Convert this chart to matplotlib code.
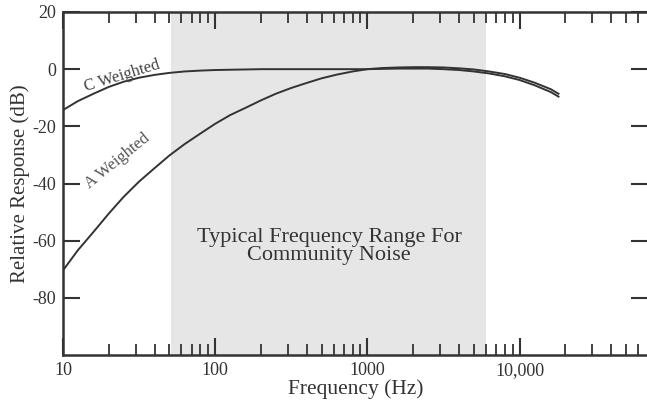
import matplotlib
matplotlib.use('Agg')
import matplotlib.pyplot as plt
from matplotlib.ticker import FixedLocator, FixedFormatter, LogLocator, NullFormatter

# Frequencies (Hz) and weighting
freq = [10, 12.5, 16, 20, 25, 31.5, 40, 50, 63, 80, 100, 125, 160, 200, 250,
        315, 400, 500, 630, 800, 1000, 1250, 1600, 2000, 2500, 3150, 4000,
        5000, 6300, 8000, 10000, 12500, 16000, 18000]
a_weighted = [-70.4, -63.4, -56.7, -50.5, -44.7, -39.4, -34.6, -30.2, -26.2,
              -22.5, -19.1, -16.1, -13.4, -10.9, -8.6, -6.6, -4.8, -3.2, -1.9,
              -0.8, 0.0, 0.4, 0.6, 0.7, 0.7, 0.6, 0.3, -0.1, -0.8, -1.7, -3.0,
              -4.7, -7.0, -8.6]
c_weighted = [-14.3, -11.2, -8.5, -6.2, -4.4, -3.0, -2.0, -1.3, -0.8, -0.5,
              -0.3, -0.2, -0.1, 0.0, 0.0, 0.0, 0.0, 0.0, 0.0, 0.0, 0.0, 0.1,
              0.2, 0.2, 0.2, 0.0, -0.3, -0.8, -1.5, -2.5, -3.8, -5.6,
              -8.0, -9.6]

band = (51, 6000)
x_ticks = [10, 100, 1000, 10000]
x_labels = ['10', '100', '1000', '10,000']
y_ticks = [-80, -60, -40, -20, 0, 20]
y_labels = ['-80', '-60', '-40', '-20', '0', '20']

plt.rcParams['font.family'] = ['Liberation Serif', 'DejaVu Serif']
ink = '#333333'

fig = plt.figure(figsize=(6.47, 4.0), dpi=100)
ax = fig.add_axes([63 / 647, 45 / 400, 1 - 63 / 647 + 0.002, 343 / 400])

ax.axvspan(band[0], band[1], color='#e6e6e6', lw=0, zorder=0)
ax.plot(freq, c_weighted, color=ink, lw=1.4, zorder=3)
ax.plot(freq, a_weighted, color=ink, lw=1.4, zorder=3)

ax.set_xscale('log')
ax.set_xlim(10, 70000)
ax.set_ylim(-100, 20)

ax.xaxis.set_major_locator(FixedLocator(x_ticks))
ax.xaxis.set_major_formatter(FixedFormatter(x_labels))
ax.xaxis.set_minor_locator(LogLocator(base=10, subs=range(2, 10), numticks=20))
ax.xaxis.set_minor_formatter(NullFormatter())
ax.yaxis.set_major_locator(FixedLocator(y_ticks))
ax.yaxis.set_major_formatter(FixedFormatter(y_labels))

ax.tick_params(axis='both', which='major', direction='in', length=12, width=1.5,
               color=ink, labelsize=13, labelcolor=ink, top=True, right=True, pad=5)
ax.tick_params(axis='x', which='minor', direction='in', length=8, width=1.3,
               color=ink, top=True)
ax.tick_params(axis='y', which='major', left=True, right=True)

for side in ['left', 'bottom', 'top']:
    ax.spines[side].set_color(ink)
    ax.spines[side].set_linewidth(1.8)
ax.spines['right'].set_visible(False)

ax.set_xlabel('Frequency (Hz)', fontsize=15.5, color=ink, labelpad=0)
ax.set_ylabel('Relative Response (dB)', fontsize=15, color=ink, labelpad=2)

ax.text(24.4, -2.2, 'C Weighted', rotation=17, fontsize=12, color='#444444',
        ha='center', va='center')
ax.text(22.8, -32.0, 'A Weighted', rotation=39, fontsize=12, color='#555555',
        ha='center', va='center')
ax.text(560, -62, 'Typical Frequency Range For\nCommunity Noise', fontsize=16,
        color=ink, ha='center', va='center', linespacing=0.95)

fig.savefig('out.png', dpi=100)
